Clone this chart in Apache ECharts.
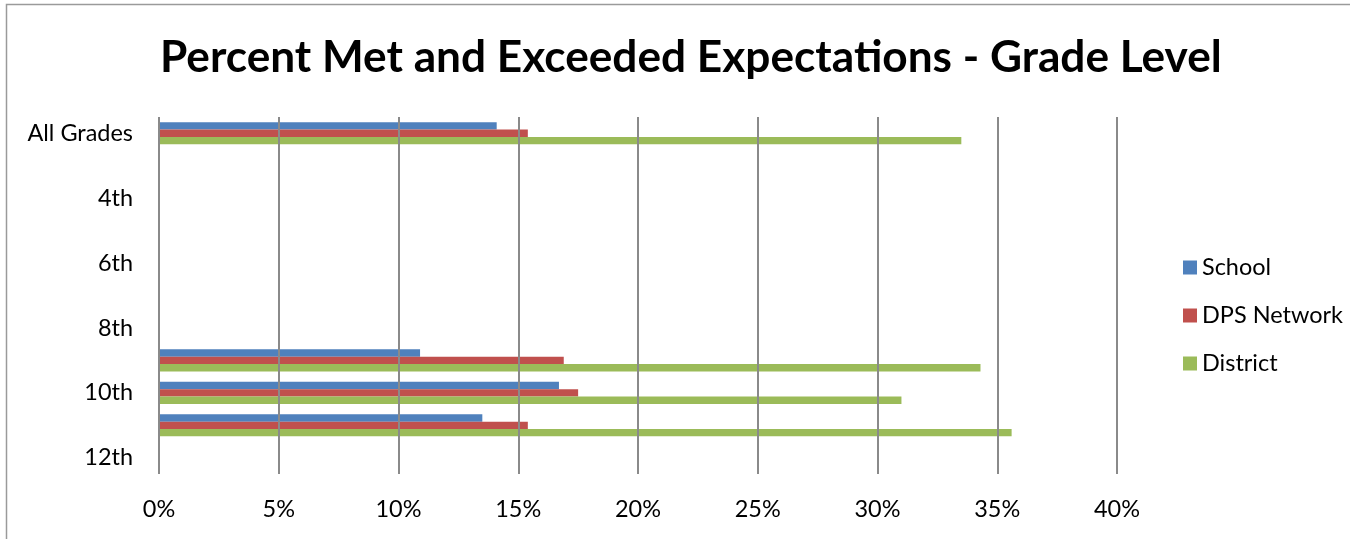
<!DOCTYPE html>
<html>
<head>
<meta charset="utf-8">
<script src="https://cdn.jsdelivr.net/npm/echarts@6/dist/echarts.min.js"></script>
<style>
html,body{margin:0;padding:0;background:#fff;}
#c{width:1350px;height:539px;}
</style>
</head>
<body>
<div id="c"></div>
<script>
const titleText = 'Percent Met and Exceeded Expectations - Grade Level';
const categories = ['All Grades','3rd','4th','5th','6th','7th','8th','9th','10th','11th','12th'];
const seriesNames = ['School','DPS Network','District'];
const schoolValues   = [14.1, null, null, null, null, null, null, 10.9, 16.7, 13.5, null];
const networkValues  = [15.4, null, null, null, null, null, null, 16.9, 17.5, 15.4, null];
const districtValues = [33.5, null, null, null, null, null, null, 34.3, 31.0, 35.6, null];
const xTicks = {min: 0, max: 40, interval: 5};

const FAMILY = 'Lato, "Open Sans", sans-serif';
function fit(text, weight, target) {
  const cv = document.createElement('canvas').getContext('2d');
  cv.font = weight + ' 100px ' + FAMILY;
  return 100 * target / cv.measureText(text).width;
}
const titleSize = fit(titleText, 'bold', 1062);
const textSize = fit('DPS Network', 'normal', 141);

const chart = echarts.init(document.getElementById('c'));
const colors = ['#4F81BD', '#C0504D', '#9BBB59'];
const values = [schoolValues, networkValues, districtValues];

chart.setOption({
  animation: false,
  color: colors,
  textStyle: {fontFamily: FAMILY},
  title: {
    text: titleText,
    left: 155,
    top: 31,
    textStyle: {fontSize: titleSize, fontWeight: 'bold', color: '#000', fontFamily: FAMILY}
  },
  graphic: [{
    type: 'rect', silent: true, z: -1,
    shape: {x: 6.5, y: 4.5, width: 1400, height: 600},
    style: {fill: null, stroke: '#9a9a9a', lineWidth: 1.5}
  }],
  legend: {
    orient: 'vertical',
    left: 1178,
    top: 251,
    data: seriesNames,
    icon: 'rect',
    itemWidth: 14,
    itemHeight: 14,
    itemGap: 25,
    textStyle: {fontSize: textSize, color: '#000', fontFamily: FAMILY}
  },
  grid: {left: 159, top: 117, width: 958, height: 357, containLabel: false},
  xAxis: {
    type: 'value',
    min: xTicks.min, max: xTicks.max, interval: xTicks.interval,
    z: 3,
    axisLine: {show: false},
    axisTick: {show: false},
    axisLabel: {formatter: '{value}%', fontSize: textSize, color: '#000', margin: 24, fontFamily: FAMILY},
    splitLine: {show: true, lineStyle: {color: '#8a8a8a', width: 2}}
  },
  yAxis: {
    type: 'category',
    inverse: true,
    data: categories,
    axisLine: {show: false},
    axisTick: {show: false},
    axisLabel: {interval: 1, fontSize: textSize, color: '#000', margin: 26, fontFamily: FAMILY},
    splitLine: {show: false}
  },
  series: seriesNames.map((n, i) => ({
    name: n,
    type: 'bar',
    data: values[i],
    barGap: '0%',
    barCategoryGap: '32%'
  }))
});
</script>
</body>
</html>
